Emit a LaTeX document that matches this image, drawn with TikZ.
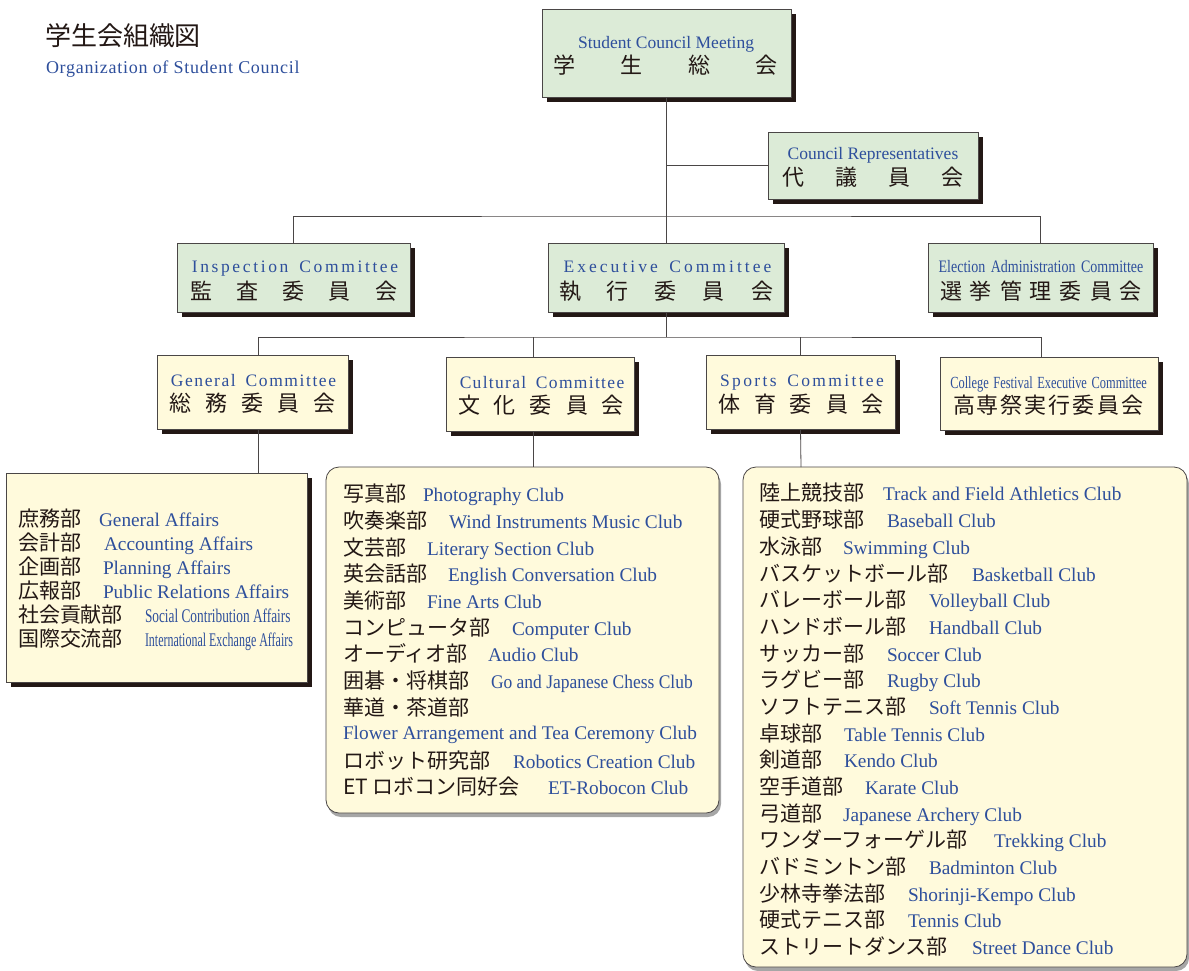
\documentclass[tikz,border=0pt]{standalone}
\usepackage{fontspec}
\setmainfont{Liberation Serif}
\newfontfamily\jp{Noto Sans CJK JP}
\newfontfamily\condEl[FakeStretch=0.80]{Liberation Serif}
\newfontfamily\condFe[FakeStretch=0.73]{Liberation Serif}
\newfontfamily\condSo[FakeStretch=0.69]{Liberation Serif}
\newfontfamily\condIn[FakeStretch=0.62]{Liberation Serif}
\newfontfamily\condGo[FakeStretch=0.905]{Liberation Serif}
\usetikzlibrary{shadows}
\definecolor{boxgreen}{HTML}{DCEBD7}
\definecolor{boxyellow}{HTML}{FFFADC}
\definecolor{entxt}{HTML}{2E4F9C}
\definecolor{jptxt}{HTML}{231815}
\definecolor{shadowc}{HTML}{231815}
\definecolor{linec}{HTML}{4A4646}
\newcommand{\spr}[2]{\makebox[#1pt][s]{#2}}
\newcommand{\wsp}{\hspace{4pt}}
\tikzset{
  every node/.style={inner sep=0pt, outer sep=0pt},
  hardshadow/.style={drop shadow={shadow xshift=5pt, shadow yshift=-5pt, fill=shadowc, opacity=1}},
  hdrbox/.style={draw=linec, line width=0.8pt, fill=boxgreen, hardshadow},
  combox/.style={draw=linec, line width=0.8pt, fill=boxyellow, hardshadow},
  listbox/.style={draw=linec, line width=0.8pt, fill=boxyellow, rounded corners=13pt,
    drop shadow={shadow xshift=2pt, shadow yshift=-4pt, fill=black, opacity=0.35}},
  hen/.style={text=entxt, font=\fontsize{17.5}{20}\selectfont, anchor=base},
  hjp/.style={text=jptxt, font=\jp\fontsize{22}{24}\selectfont, anchor=base},
  ljp/.style={text=jptxt, font=\jp\fontsize{21}{24}\selectfont, anchor=base west},
  len/.style={text=entxt, font=\fontsize{19.3}{22}\selectfont, anchor=base west},
  conn/.style={draw=linec, line width=0.8pt}
}
\begin{document}
\begin{tikzpicture}[x=1pt, y=-1pt]
\useasboundingbox[fill=white] (0,0) rectangle (1189,970);

% title
\node[text=jptxt, font=\jp\fontsize{26}{28}\selectfont, anchor=base west] (title) at (45,45) {学生会組織図};
\node[text=entxt, font=\addfontfeature{LetterSpace=4}\fontsize{18}{20}\selectfont, anchor=base west] (titleE) at (46,73) {Organization of Student Council};

% header boxes
\node[hdrbox, minimum width=249pt, minimum height=88pt] (scm) at (666.5,53) {};
\node[hen] (scmE) at (666,48) {Student Council Meeting};
\node[hjp] (scmJ) at (665.5,73.5) {\spr{225}{学\hfill 生\hfill 総\hfill 会}};

\node[hdrbox, minimum width=210pt, minimum height=67pt] (rep) at (873,165.5) {};
\node[hen] (repE) at (873,159) {Council Representatives};
\node[hjp] (repJ) at (873,185.5) {\spr{182}{代\hfill 議\hfill 員\hfill 会}};

\node[hdrbox, minimum width=233pt, minimum height=69pt] (insp) at (293.5,277.5) {};
\node[hen, font=\addfontfeature{LetterSpace=15}\fontsize{17.5}{20}\selectfont] (inspE) at (295,272) {Inspection\wsp{} Committee};
\node[hjp] (inspJ) at (293.5,299) {\spr{207}{監\hfill 査\hfill 委\hfill 員\hfill 会}};

\node[hdrbox, minimum width=236pt, minimum height=69pt] (exec) at (666,277.5) {};
\node[hen, font=\addfontfeature{LetterSpace=17.4}\fontsize{17.5}{20}\selectfont] (execE) at (667.5,272) {Executive\wsp{} Committee};
\node[hjp] (execJ) at (666,299) {\spr{214}{執\hfill 行\hfill 委\hfill 員\hfill 会}};

\node[hdrbox, minimum width=225pt, minimum height=69pt] (elec) at (1040.5,277.5) {};
\node[hen, font=\condEl\fontsize{17.5}{20}\selectfont] (elecE) at (1041,272) {Election\hspace{2pt} Administration\hspace{2pt} Committee};
\node[hjp] (elecJ) at (1041,299) {\spr{202}{選\hfill 挙\hfill 管\hfill 理\hfill 委\hfill 員\hfill 会}};

% committee boxes
\node[combox, minimum width=191pt, minimum height=74pt] (gen) at (252.5,392) {};
\node[hen, font=\addfontfeature{LetterSpace=9}\fontsize{17.5}{20}\selectfont] (genE) at (253.5,386) {General\wsp{} Committee};
\node[hjp] (genJ) at (252.5,411.5) {\spr{166}{総\hfill 務\hfill 委\hfill 員\hfill 会}};

\node[combox, minimum width=188pt, minimum height=74pt] (cult) at (540,394) {};
\node[hen, font=\addfontfeature{LetterSpace=7.5}\fontsize{17.5}{20}\selectfont] (cultE) at (542,388) {Cultural\wsp{} Committee};
\node[hjp] (cultJ) at (541,413.5) {\spr{166}{文\hfill 化\hfill 委\hfill 員\hfill 会}};

\node[combox, minimum width=189pt, minimum height=74pt] (sport) at (800.5,392) {};
\node[hen, font=\addfontfeature{LetterSpace=13.4}\fontsize{17.5}{20}\selectfont] (sportE) at (802,386) {Sports\wsp{} Committee};
\node[hjp] (sportJ) at (801,412.5) {\spr{166}{体\hfill 育\hfill 委\hfill 員\hfill 会}};

\node[combox, minimum width=218pt, minimum height=73pt] (fest) at (1049,393.5) {};
\node[hen, font=\condFe\fontsize{17}{20}\selectfont] (festE) at (1048.5,388) {College\hspace{1.5pt} Festival\hspace{1.5pt} Executive\hspace{1.5pt} Committee};
\node[hjp] (festJ) at (1048,413.5) {\spr{190}{高\hfill 専\hfill 祭\hfill 実\hfill 行\hfill 委\hfill 員\hfill 会}};

% list boxes
\node[combox, minimum width=301pt, minimum height=209pt] (lbox) at (156.5,577.5) {};
\node[listbox, minimum width=393pt, minimum height=346pt] (mbox) at (522.5,640) {};
\node[listbox, minimum width=444pt, minimum height=500pt] (rbox) at (965,717) {};

% connectors
\draw[conn] (exec.north) -- (exec.north |- scm.south);
\draw[conn] (rep.west) -- (rep.west -| exec.north);
\coordinate (bus1) at (666,216);
\draw[conn] (insp.north) |- (bus1) -| (elec.north);
\coordinate (bus2) at (666,337);
\draw[conn] (exec.south) -- (bus2);
\draw[conn] ([xshift=5.5pt]gen.north) |- (bus2) -| ([xshift=-8pt]fest.north);
\draw[conn] ([xshift=-7pt]cult.north) -- ([xshift=-7pt]cult.north |- bus2);
\draw[conn] (sport.north) -- (sport.north |- bus2);
\draw[conn] ([xshift=5.5pt]gen.south) -- ([xshift=101.5pt]lbox.north);
\draw[conn] ([xshift=-7pt]cult.south) -- ([xshift=10.5pt]mbox.north);
\draw[conn] (sport.south) -- ([xshift=-164pt]rbox.north);

% left list
\foreach \i/\y/\xe/\j/\e in {
  1/518/99/庶務部/General Affairs,
  2/542/104/会計部/Accounting Affairs,
  3/566/103/企画部/Planning Affairs,
  4/590/103/広報部/Public Relations Affairs,
  5/614/145/社会貢献部/{\condSo Social Contribution Affairs},
  6/638/145/国際交流部/{\condIn International Exchange Affairs}}{
  \node[ljp] (lj\i) at (18,\y+8) {\j};
  \node[len] (le\i) at (\xe,\y+8) {\e};
}

% middle list
\foreach \i/\y/\xe/\j/\e in {
  1/493/423/写真部/Photography Club,
  2/520/449/吹奏楽部/Wind Instruments Music Club,
  3/547/427/文芸部/Literary Section Club,
  4/573/448/英会話部/English Conversation Club,
  5/600/427/美術部/Fine Arts Club,
  6/627/512/コンピュータ部/Computer Club,
  7/653/488/オーディオ部/Audio Club,
  8/680/491/囲碁・将棋部/{\condGo Go and Japanese Chess Club},
  11/760/513/ロボット研究部/Robotics Creation Club,
  12/786/548/ET ロボコン同好会/ET-Robocon Club}{
  \node[ljp] (mj\i) at (343,\y+8) {\j};
  \node[len] (me\i) at (\xe,\y+8) {\e};
}
\node[ljp] (mj9) at (343,715) {華道・茶道部};
\node[len] (me9) at (343,739) {Flower Arrangement and Tea Ceremony Club};

% right list
\foreach \i/\y/\xe/\j/\e in {
  1/492/883/陸上競技部/Track and Field Athletics Club,
  2/519/887/硬式野球部/Baseball Club,
  3/546/843/水泳部/Swimming Club,
  4/573/972/バスケットボール部/Basketball Club,
  5/599/929/バレーボール部/Volleyball Club,
  6/626/929/ハンドボール部/Handball Club,
  7/653/887/サッカー部/Soccer Club,
  8/679/887/ラグビー部/Rugby Club,
  9/706/929/ソフトテニス部/Soft Tennis Club,
  10/733/844/卓球部/Table Tennis Club,
  11/759/844/剣道部/Kendo Club,
  12/786/865/空手道部/Karate Club,
  13/813/843/弓道部/Japanese Archery Club,
  14/839/994/ワンダーフォーゲル部/Trekking Club,
  15/866/929/バドミントン部/Badminton Club,
  16/893/908/少林寺拳法部/Shorinji-Kempo Club,
  17/919/908/硬式テニス部/Tennis Club,
  18/946/972/ストリートダンス部/Street Dance Club}{
  \node[ljp] (rj\i) at (759,\y+8) {\j};
  \node[len] (re\i) at (\xe,\y+8) {\e};
}
\end{tikzpicture}
\end{document}
